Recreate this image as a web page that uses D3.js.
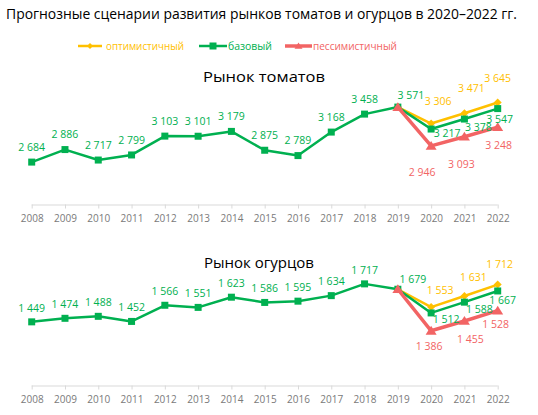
<!DOCTYPE html>
<html><head><meta charset="utf-8">
<script src="https://cdn.jsdelivr.net/npm/d3@7/dist/d3.min.js"></script>
<style>body{margin:0;background:#fff}svg{display:block}text{font-family:"Open Sans",sans-serif}</style>
</head><body><svg id="c" width="538" height="415"></svg>
<script>
const years = [2008,2009,2010,2011,2012,2013,2014,2015,2016,2017,2018,2019,2020,2021,2022];
const forecastYears = [2019,2020,2021,2022];
// Tomatoes
const tomBase = [2684,2886,2717,2799,3103,3101,3179,2875,2789,3168,3458,3571,3217,3378,3547];
const tomOpt  = [3571,3306,3471,3645];
const tomPess = [3571,2946,3093,3248];
// Cucumbers
const cucBase = [1449,1474,1488,1452,1566,1551,1623,1586,1595,1634,1717,1679,1512,1588,1667];
const cucOpt  = [1679,1553,1631,1712];
const cucPess = [1679,1386,1455,1528];
const seriesNames = ["оптимистичный","базовый","пессимистичный"];
const title = "Прогнозные сценарии развития рынков томатов и огурцов в 2020–2022 гг.";
const subTitles = ["Рынок томатов","Рынок огурцов"];

const C = {opt:"#FFC000", base:"#00B050", pess:"#F26464"};
const fmt = d3.formatLocale({decimal:",",thousands:"\u00a0",grouping:[3],currency:["",""]}).format(",d");
const svg = d3.select("#c");

svg.append("text").attr("x",6).attr("y",14).attr("dy","0.35em").attr("text-anchor","start")
  .attr("font-size",14).attr("textLength",511).attr("lengthAdjust","spacingAndGlyphs").attr("fill","#000").text(title);

// legend
const leg = [{n:seriesNames[0],c:C.opt,m:"diamond",x0:78,x1:102,tx:106,w:78},
             {n:seriesNames[1],c:C.base,m:"square",x0:199,x1:227,tx:228,w:44},
             {n:seriesNames[2],c:C.pess,m:"triangle",x0:285,x1:312,tx:313,w:84}];
function marker(g,type,x,y,c,big){
  if(type==="square"){ const s=7; g.append("rect").attr("x",x-s/2).attr("y",y-s/2).attr("width",s).attr("height",s).attr("fill",c);}
  else if(type==="diamond"){ const s=big?4:3; g.append("path").attr("d",`M${x},${y-s}L${x+s},${y}L${x},${y+s}L${x-s},${y}Z`).attr("fill",c);}
  else { const s=big?5.5:4; g.append("path").attr("d",`M${x},${y-s*0.9}L${x+s},${y+s*0.7}L${x-s},${y+s*0.7}Z`).attr("fill",c);}
}
leg.forEach(l=>{
  svg.append("line").attr("x1",l.x0).attr("x2",l.x1).attr("y1",46).attr("y2",46).attr("stroke",l.c).attr("stroke-width",l.m==="triangle"?3.5:2.5);
  marker(svg,l.m,(l.x0+l.x1)/2,46,l.c,false);
  svg.append("text").attr("x",l.tx).attr("y",46).attr("dy","0.35em").attr("font-size",10.5)
    .attr("textLength",l.w).attr("lengthAdjust","spacingAndGlyphs").attr("fill",l.c).text(l.n);
});

const x = d3.scalePoint().domain(years).range([31.7,497.7]);

function panel(cfg){
  const y = d3.scaleLinear().domain(cfg.domain).range(cfg.range);
  const g = svg.append("g");
  g.append("text").attr("x",cfg.stx).attr("y",cfg.sty).attr("dy","0.35em").attr("text-anchor","middle")
    .attr("font-size",15).attr("textLength",cfg.stw).attr("lengthAdjust","spacingAndGlyphs").attr("fill","#000").text(cfg.sub);
  const ax = g.append("g").attr("transform",`translate(0,${cfg.range[0]})`)
    .call(d3.axisBottom(x).tickSize(4).tickPadding(6).tickFormat(d=>d));
  ax.select(".domain").attr("stroke","#D9D9D9").attr("d",`M${x(2008)},0.5H${x(2022)}`);
  ax.selectAll(".tick line").attr("stroke","#D9D9D9");
  ax.selectAll(".tick text").attr("font-size",10).attr("fill","#7A7A7A").attr("font-family","'Open Sans',sans-serif");
  const line = d3.line().x(d=>x(d[0])).y(d=>y(d[1]));
  const opt = forecastYears.map((yr,i)=>[yr,cfg.opt[i]]);
  const pess = forecastYears.map((yr,i)=>[yr,cfg.pess[i]]);
  const base = years.map((yr,i)=>[yr,cfg.base[i]]);
  g.append("path").attr("d",line(opt)).attr("fill","none").attr("stroke",C.opt).attr("stroke-width",2.5).attr("stroke-linejoin","round");
  opt.forEach(d=>marker(g,"diamond",x(d[0]),y(d[1]),C.opt,true));
  g.append("path").attr("d",line(base)).attr("fill","none").attr("stroke",C.base).attr("stroke-width",2.5).attr("stroke-linejoin","round");
  base.forEach(d=>marker(g,"square",x(d[0]),y(d[1]),C.base,true));
  g.append("path").attr("d",line(pess)).attr("fill","none").attr("stroke",C.pess).attr("stroke-width",3.5).attr("stroke-linejoin","round");
  pess.forEach(d=>marker(g,"triangle",x(d[0]),y(d[1]),C.pess,true));
  const lab=(d,off,c)=>g.append("text").attr("x",x(d[0])+off[0]).attr("y",y(d[1])+off[1]).attr("dy","0.35em")
    .attr("text-anchor","middle").attr("font-size",10.5).attr("fill",c).text(fmt(d[1]));
  base.forEach((d,i)=>lab(d, i<11?cfg.histOff:cfg.baseOff[i-11], C.base));
  opt.forEach((d,i)=>{ if(i>0) lab(d,cfg.optOff[i-1],C.opt); });
  pess.forEach((d,i)=>{ if(i>0) lab(d,cfg.pessOff[i-1],C.pess); });
}

panel({domain:[2000,4000],range:[204.5,80.5],sub:subTitles[0],stx:264,sty:77,stw:122,
  base:tomBase,opt:tomOpt,pess:tomPess,histOff:[0,-15],
  baseOff:[[13,-12],[16,4],[14,8],[2,11]],
  optOff:[[7,-22],[7,-24.5],[0,-24]],
  pessOff:[[-9,26],[-3,28],[1,18]]});
panel({domain:[1000,1800],range:[385.5,272.1],sub:subTitles[1],stx:259,sty:263,stw:110,
  base:cucBase,opt:cucOpt,pess:cucPess,histOff:[0,-14],
  baseOff:[[15,-10],[15,6],[15,7],[5,9]],
  optOff:[[9,-17],[9,-19],[2,-20]],
  pessOff:[[-2,16],[6,18],[-2,14]]});
</script></body></html>
